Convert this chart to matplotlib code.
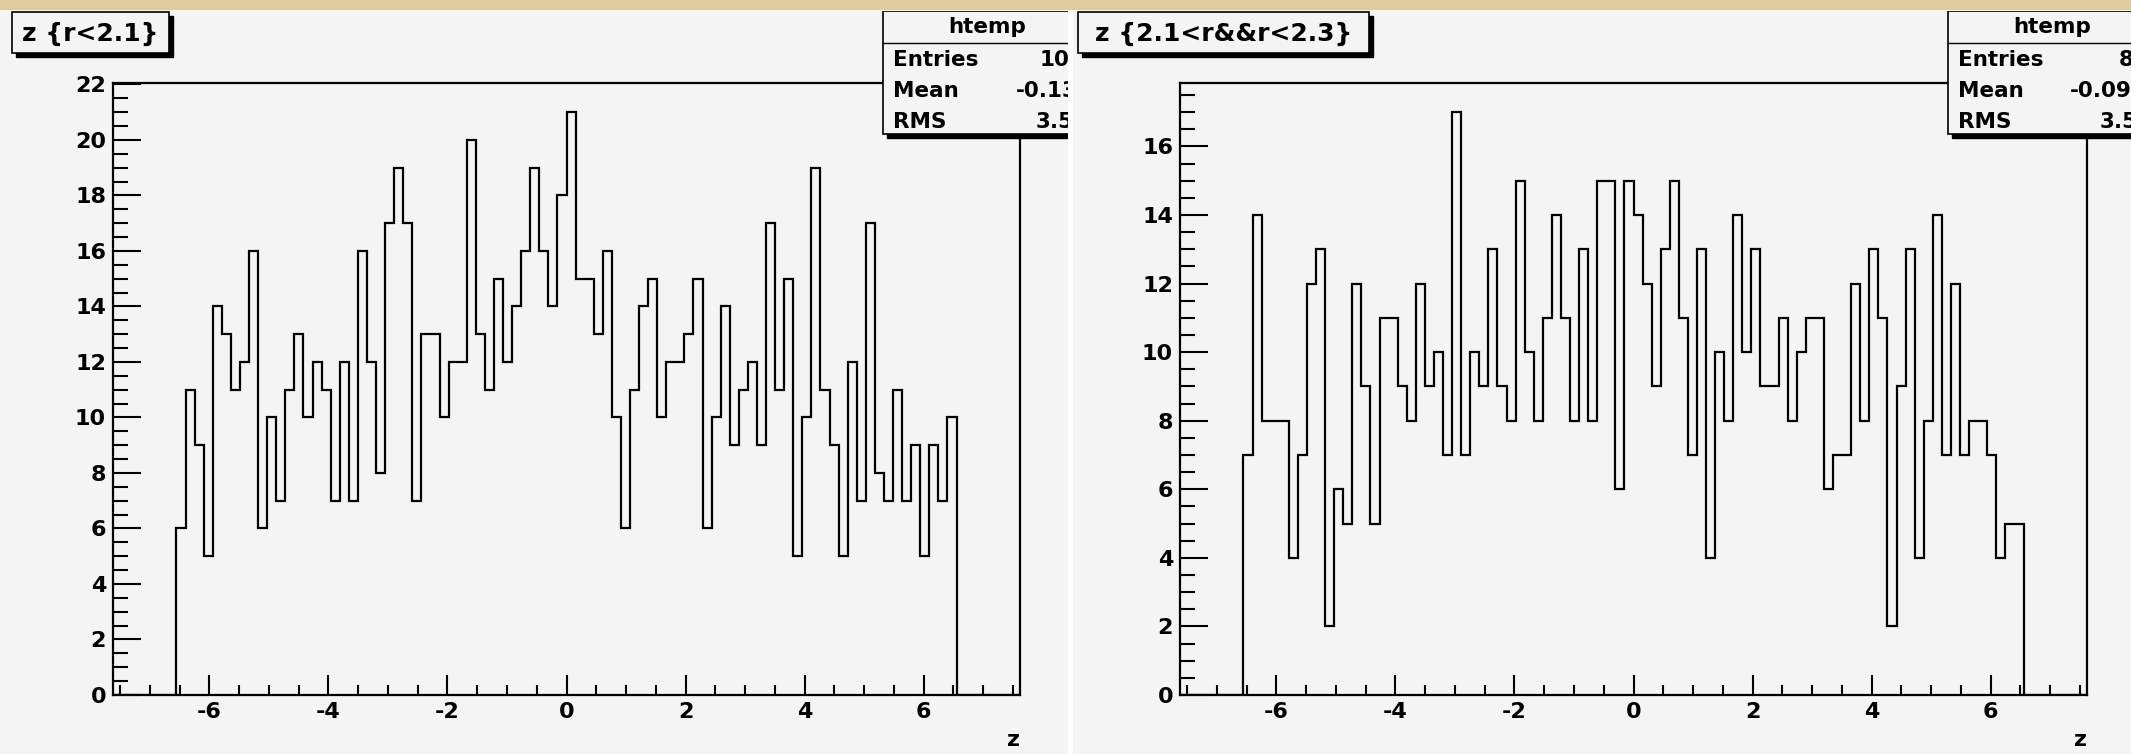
import numpy as np
import matplotlib.pyplot as plt
from matplotlib.patches import Rectangle
from matplotlib.ticker import MultipleLocator

plt.rcParams["font.family"] = "DejaVu Sans"
plt.rcParams["axes.unicode_minus"] = False

W, H = 2131, 754

# ROOT "htemp" histograms: 100 bins over the axis range, only the middle ones filled
x_min, x_max, n_bins, first_bin = -7.62, 7.62, 100, 7
z_r_lt_21 = [6, 11, 9, 5, 14, 13, 11, 12, 16, 6, 10, 7, 11, 13, 10, 12, 11, 7, 12, 7,
             16, 12, 8, 17, 19, 17, 7, 13, 13, 10, 12, 12, 20, 13, 11, 15, 12, 14, 16, 19,
             16, 14, 18, 21, 15, 15, 13, 16, 10, 6, 11, 14, 15, 10, 12, 12, 13, 15, 6, 10,
             14, 9, 11, 12, 9, 17, 11, 15, 5, 10, 19, 11, 9, 5, 12, 7, 17, 8, 7, 11,
             7, 9, 5, 9, 7, 10]
z_r_21_23 = [7, 14, 8, 8, 8, 4, 7, 12, 13, 2, 6, 5, 12, 9, 5, 11, 11, 9, 8, 12,
             9, 10, 7, 17, 7, 10, 9, 13, 9, 8, 15, 10, 8, 11, 14, 11, 8, 13, 8, 15,
             15, 6, 15, 14, 12, 9, 13, 15, 11, 7, 13, 4, 10, 8, 14, 10, 13, 9, 9, 11,
             8, 10, 11, 11, 6, 7, 7, 12, 8, 13, 11, 2, 9, 13, 4, 8, 14, 7, 12, 7,
             8, 8, 7, 4, 5, 5]
titles = ["z {r<2.1}", "z {2.1<r&&r<2.3}"]
means = ["-0.1318", "-0.09534"]
rms = ["3.517", "3.538"]
y_major = [2, 2]

BG = "#f4f4f4"


def frac(x0, y0, x1, y1):
    return [x0 / W, 1 - y1 / H, (x1 - x0) / W, (y1 - y0) / H]


def pixel_axes(box, z, face):
    px0, py0, px1, py1 = box
    a = fig.add_axes(frac(*box), zorder=z)
    a.set_xlim(px0, px1)
    a.set_ylim(py1, py0)
    a.set_xticks([])
    a.set_yticks([])
    for s in a.spines.values():
        s.set_visible(False)
    if face is None:
        a.patch.set_alpha(0)
    else:
        a.set_facecolor(face)
    return a


fig = plt.figure(figsize=(W / 100, H / 100), dpi=100, facecolor="white")
fig.patches.append(Rectangle((0, 1 - 9 / H), 1, 9 / H, transform=fig.transFigure,
                             color="#dccca0", zorder=0))

pads = [(0, 11, 1068, 754), (1073, 11, 2131, 754)]
frames = [(113, 83, 1020, 695), (1180, 83, 2087, 695)]
title_boxes = [(12, 12, 169, 53), (1078, 12, 1369, 53)]
stat_boxes = [(883, 11, 1091, 134), (1948, 11, 2156, 134)]
value_x = [(1040, 1016, 1036), (2119, 2070, 2100)]

edges = np.linspace(x_min, x_max, n_bins + 1)

for i, data in enumerate([z_r_lt_21, z_r_21_23]):
    pad = pixel_axes(pads[i], 1, BG)
    over = pixel_axes(pads[i], 3, None)

    # title box with shadow
    tx0, ty0, tx1, ty1 = title_boxes[i]
    pad.add_patch(Rectangle((tx0 + 4, ty0 + 4), tx1 - tx0, ty1 - ty0, color="black"))
    pad.add_patch(Rectangle((tx0, ty0), tx1 - tx0, ty1 - ty0, facecolor=BG,
                            edgecolor="black", lw=1.2))
    pad.text((tx0 + tx1) / 2, (ty0 + ty1) / 2 + 1, titles[i], ha="center", va="center",
             fontsize=18, fontweight="bold", color="black")

    # stats box on top of the frame, clipped by the pad edge like in ROOT
    sx0, sy0, sx1, sy1 = stat_boxes[i]
    over.add_patch(Rectangle((sx0 + 4, sy0 + 4), sx1 - sx0, sy1 - sy0, color="black"))
    over.add_patch(Rectangle((sx0, sy0), sx1 - sx0, sy1 - sy0, facecolor=BG,
                             edgecolor="black", lw=1.2))
    over.plot([sx0, sx1], [sy0 + 32, sy0 + 32], color="black", lw=1.0)
    over.text((sx0 + sx1) / 2, sy0 + 16, "htemp", ha="center", va="center",
              fontsize=15.5, fontweight="bold", clip_on=True)
    rows = [("Entries", f"{int(sum(data))}"), ("Mean", means[i]), ("RMS", rms[i])]
    for k, (lab, val) in enumerate(rows):
        yy = sy0 + 49 + k * 31
        over.text(sx0 + 10, yy, lab, ha="left", va="center", fontsize=15.5,
                  fontweight="bold", clip_on=True)
        over.text(value_x[i][k], yy, val, ha="left", va="center", fontsize=15.5,
                  fontweight="bold", clip_on=True)

    # histogram frame
    ax = fig.add_axes(frac(*frames[i]), zorder=2)
    ax.set_facecolor(BG)
    counts = np.zeros(n_bins)
    counts[first_bin:first_bin + len(data)] = data
    ax.stairs(counts, edges, baseline=0, color="black", lw=1.6)
    ax.set_xlim(x_min, x_max)
    ax.set_ylim(0, max(data) * 1.05)
    ax.xaxis.set_major_locator(MultipleLocator(2))
    ax.xaxis.set_minor_locator(MultipleLocator(0.5))
    ax.yaxis.set_major_locator(MultipleLocator(y_major[i]))
    ax.yaxis.set_minor_locator(MultipleLocator(0.5))
    ax.tick_params(axis="x", which="major", direction="in", length=14.5, width=1.5,
                   pad=5, labelsize=16, top=False)
    ax.tick_params(axis="x", which="minor", direction="in", length=7.5, width=1.5, top=False)
    ax.tick_params(axis="y", which="major", direction="in", length=20, width=1.5,
                   pad=5, labelsize=16, right=False)
    ax.tick_params(axis="y", which="minor", direction="in", length=11, width=1.5, right=False)
    for lab in ax.get_xticklabels() + ax.get_yticklabels():
        lab.set_fontweight("bold")
    for s in ax.spines.values():
        s.set_linewidth(1.6)
    ax.set_xlabel("z", fontsize=16, fontweight="bold", loc="right", labelpad=6)

fig.savefig("out.png", dpi=100, facecolor="white")
